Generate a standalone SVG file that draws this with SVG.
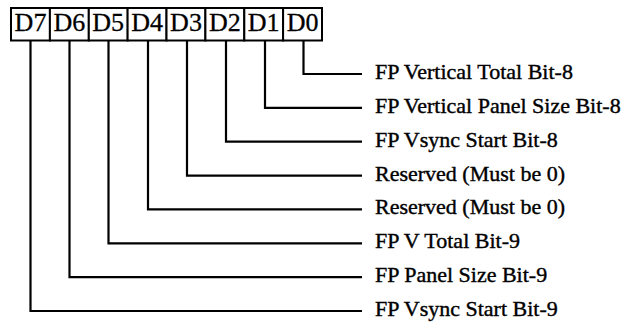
<svg xmlns="http://www.w3.org/2000/svg" width="637" height="324" viewBox="0 0 637 324">
<style>
.cell{fill:#fff;stroke:#000;stroke-width:2}
.bit{font-family:"Liberation Serif","Times New Roman",serif;font-size:26px;fill:#000;stroke:#000;stroke-width:0.3;text-anchor:middle}
.lbl{font-family:"Liberation Serif","Times New Roman",serif;font-size:22px;fill:#000;stroke:#000;stroke-width:0.4}
.wire{fill:none;stroke:#000;stroke-width:2.2;stroke-linejoin:miter}
</style>
<rect width="637" height="324" fill="#fff"/>
<g id="register">
<g id="D7"><rect class="cell" x="11" y="8" width="38.9" height="32.5"/><text class="bit" x="30.5" y="31">D7</text></g>
<g id="D6"><rect class="cell" x="49.9" y="8" width="38.9" height="32.5"/><text class="bit" x="69.4" y="31">D6</text></g>
<g id="D5"><rect class="cell" x="88.8" y="8" width="38.9" height="32.5"/><text class="bit" x="108.2" y="31">D5</text></g>
<g id="D4"><rect class="cell" x="127.6" y="8" width="38.9" height="32.5"/><text class="bit" x="147.1" y="31">D4</text></g>
<g id="D3"><rect class="cell" x="166.5" y="8" width="38.9" height="32.5"/><text class="bit" x="186" y="31">D3</text></g>
<g id="D2"><rect class="cell" x="205.4" y="8" width="38.9" height="32.5"/><text class="bit" x="224.8" y="31">D2</text></g>
<g id="D1"><rect class="cell" x="244.3" y="8" width="38.9" height="32.5"/><text class="bit" x="263.7" y="31">D1</text></g>
<g id="D0"><rect class="cell" x="283.1" y="8" width="38.9" height="32.5"/><text class="bit" x="302.6" y="31">D0</text></g>
</g>
<g id="connectors">
<polyline class="wire" points="303.5,40.5 303.5,74 362,74"/>
<polyline class="wire" points="265,40.5 265,107.9 362,107.9"/>
<polyline class="wire" points="226,40.5 226,141.7 362,141.7"/>
<polyline class="wire" points="187,40.5 187,175.6 362,175.6"/>
<polyline class="wire" points="148,40.5 148,209.4 362,209.4"/>
<polyline class="wire" points="108.5,40.5 108.5,243.3 362,243.3"/>
<polyline class="wire" points="69.5,40.5 69.5,277.1 362,277.1"/>
<polyline class="wire" points="30.5,40.5 30.5,311 362,311"/>
</g>
<g id="labels">
<text class="lbl" x="375" y="79">FP Vertical Total Bit-8</text>
<text class="lbl" x="375" y="112.9">FP Vertical Panel Size Bit-8</text>
<text class="lbl" x="375" y="146.7">FP Vsync Start Bit-8</text>
<text class="lbl" x="375" y="180.6">Reserved (Must be 0)</text>
<text class="lbl" x="375" y="214.4">Reserved (Must be 0)</text>
<text class="lbl" x="375" y="248.3">FP V Total Bit-9</text>
<text class="lbl" x="375" y="282.1">FP Panel Size Bit-9</text>
<text class="lbl" x="375" y="316">FP Vsync Start Bit-9</text>
</g>
</svg>
